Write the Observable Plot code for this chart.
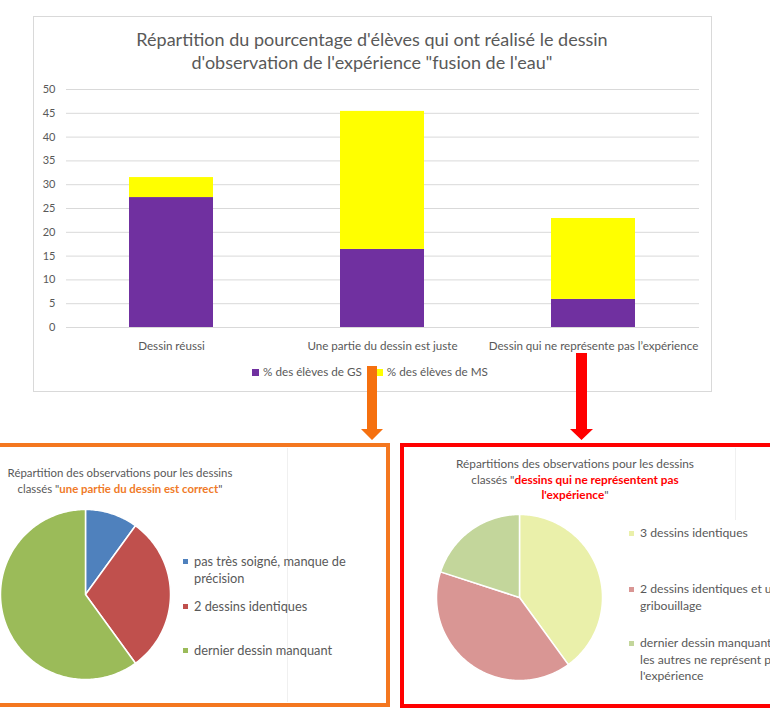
<!DOCTYPE html>
<html><head><meta charset="utf-8">
<script src="https://cdn.jsdelivr.net/npm/d3@7"></script>
<script src="https://cdn.jsdelivr.net/npm/@observablehq/plot@0.6"></script>
<style>
html,body{margin:0;padding:0;background:#fff;}
#page{position:relative;width:770px;height:714px;overflow:hidden;font-family:Lato,"Open Sans",sans-serif;color:#595959;}
.abs{position:absolute;}
.sq{display:inline-block;width:7px;height:7px;margin-right:4px;vertical-align:middle;position:relative;top:-1px;}
.lg{display:flex;align-items:flex-start;white-space:pre;font-size:12.8px;line-height:17px;color:#595959;}
.lg .sq{width:5px;height:5px;margin-right:6px;margin-top:6px;top:0;}
.lg2{font-size:12.2px;line-height:16.5px;}
</style></head><body><div id="page"></div>
<script>
// ---------- data ----------
const categories = ["Dessin réussi", "Une partie du dessin est juste", "Dessin qui ne représente pas l’expérience"];
const seriesNames = ["% des élèves de GS", "% des élèves de MS"];
const gsValues = [27.3, 16.4, 5.9];
const msValues = [4.2, 29.0, 17.0];
const yTicks = [0, 5, 10, 15, 20, 25, 30, 35, 40, 45, 50];
const barColors = ["#7030A0", "#FFFF00"];

const pie1Labels = ["pas très soigné, manque de\nprécision", "2 dessins identiques", "dernier dessin manquant"];
const pie1Values = [10, 30, 60];
const pie1Colors = ["#4F81BD", "#C0504D", "#9BBB59"];

const pie2Labels = ["3 dessins identiques", "2 dessins identiques et un\ngribouillage", "dernier dessin manquant,\nles autres ne représent pas\nl'expérience"];
const pie2Values = [40, 40, 20];
const pie2Colors = ["#EAF0AA", "#D99694", "#C3D69B"];

const page = document.getElementById("page");
function el(tag, css, html) {
  const e = document.createElement(tag);
  e.className = "abs";
  e.style.cssText = css;
  if (html != null) e.innerHTML = html;
  page.appendChild(e);
  return e;
}

// ---------- top chart ----------
el("div", "left:33px;top:16px;width:677px;height:374px;border:1px solid #d9d9d9;");

const barData = categories.flatMap((c, i) => [
  {cat: c, series: seriesNames[0], value: gsValues[i]},
  {cat: c, series: seriesNames[1], value: msValues[i]}
]);

const bar = Plot.plot({
  width: 770, height: 400,
  marginLeft: 66, marginRight: 71, marginTop: 89, marginBottom: 73,
  style: {fontFamily: "Lato, sans-serif", fontSize: "11px", color: "#595959", background: "transparent", overflow: "visible"},
  x: {domain: categories, paddingInner: 0.6, paddingOuter: 0.3, label: null, axis: null},
  y: {domain: [0, 50], label: null, axis: null},
  color: {domain: seriesNames, range: barColors},
  marks: [
    Plot.ruleY(yTicks, {stroke: "#d9d9d9", strokeWidth: 1}),
    Plot.barY(barData, {x: "cat", y: "value", fill: "series"}),
    Plot.axisY(yTicks, {tickSize: 0, tickPadding: 11, fontSize: 11, label: null, fill: "#595959"}),
    Plot.axisX({tickSize: 0, tickPadding: 14, fontSize: 11.6, label: null, fill: "#595959"})
  ]
});
bar.style.position = "absolute"; bar.style.left = "0px"; bar.style.top = "0px";
page.appendChild(bar);

el("div", "left:33px;top:28px;width:678px;text-align:center;font-size:18px;line-height:23px;color:#595959;",
  "Répartition du pourcentage d'élèves qui ont réalisé le dessin<br>d'observation de l'expérience \"fusion de l'eau\"");

const legTop = el("div", "left:31px;top:363px;width:678px;text-align:center;font-size:11.7px;line-height:16px;color:#595959;white-space:nowrap;");
legTop.innerHTML = seriesNames.map((s, i) =>
  `<span style="margin:0 7px"><span class="sq" style="background:${barColors[i]}"></span>${s}</span>`).join("");

// ---------- arrows ----------
const arrows = el("div", "left:0;top:0;width:770px;height:714px;");
arrows.innerHTML = `<svg width="770" height="714">
<polygon points="367,366 377,366 377,429 383,429 372,440 361,429 367,429" fill="#F5700F"/>
<polygon points="576,353 587,353 587,429 593,429 581.5,440 570,429 576,429" fill="#FF0000"/>
</svg>`;

// ---------- panels ----------
el("div", "left:-10px;top:443px;width:392px;height:256px;border:4px solid #F47720;");
el("div", "left:400px;top:443px;width:400px;height:257px;border:4px solid #FF0000;");
el("div", "left:287px;top:448px;width:1px;height:254px;background:#f0f0f0;");
el("div", "left:735px;top:448px;width:1px;height:72px;background:#f0f0f0;");

function pieChart(labels, values, colors, size) {
  const total = d3.sum(values);
  let acc = 0;
  const pts = [];
  values.forEach((v, i) => {
    const a0 = acc / total * 2 * Math.PI;
    acc += v;
    const a1 = acc / total * 2 * Math.PI;
    pts.push({slice: labels[i], x: 0, y: 0});
    const n = Math.max(2, Math.ceil((a1 - a0) / (Math.PI / 180)));
    for (let k = 0; k <= n; k++) {
      const a = a0 + (a1 - a0) * k / n;
      pts.push({slice: labels[i], x: Math.sin(a), y: Math.cos(a)});
    }
  });
  return Plot.plot({
    width: size, height: size, margin: 0,
    style: {background: "transparent", overflow: "visible"},
    x: {domain: [-1, 1], axis: null},
    y: {domain: [-1, 1], axis: null},
    color: {type: "ordinal", domain: labels, range: colors},
    marks: [
      Plot.line(pts, {x: "x", y: "y", z: "slice", fill: "slice", stroke: "white", strokeWidth: 1.5, curve: "linear-closed"})
    ]
  });
}

const p1 = pieChart(pie1Labels, pie1Values, pie1Colors, 170);
p1.style.position = "absolute"; p1.style.left = "0px"; p1.style.top = "509px";
page.appendChild(p1);

const p2 = pieChart(pie2Labels, pie2Values, pie2Colors, 166);
p2.style.position = "absolute"; p2.style.left = "436px"; p2.style.top = "514px";
page.appendChild(p2);

el("div", "left:-5px;top:465px;width:250px;text-align:center;font-size:11.4px;line-height:15.5px;color:#595959;",
  "Répartition des observations pour les dessins<br>classés \"<b style='color:#F07A28'>une partie du dessin est correct</b>\"");
el("div", "left:440px;top:456px;width:270px;text-align:center;font-size:11.8px;line-height:15.5px;color:#595959;",
  "Répartitions des observations pour les dessins<br>classés \"<b style='color:#FF0000'>dessins qui ne représentent pas<br>l'expérience</b>\"");

const leg1Tops = [553, 598, 642];
pie1Labels.forEach((t, i) => {
  el("div", `left:183px;top:${leg1Tops[i]}px;`, null).innerHTML =
    `<div class="lg"><span class="sq" style="background:${pie1Colors[i]}"></span><span>${t}</span></div>`;
});
const leg2Tops = [525, 581, 635];
pie2Labels.forEach((t, i) => {
  el("div", `left:629px;top:${leg2Tops[i]}px;`, null).innerHTML =
    `<div class="lg lg2"><span class="sq" style="background:${pie2Colors[i]}"></span><span>${t}</span></div>`;
});
</script></body></html>
